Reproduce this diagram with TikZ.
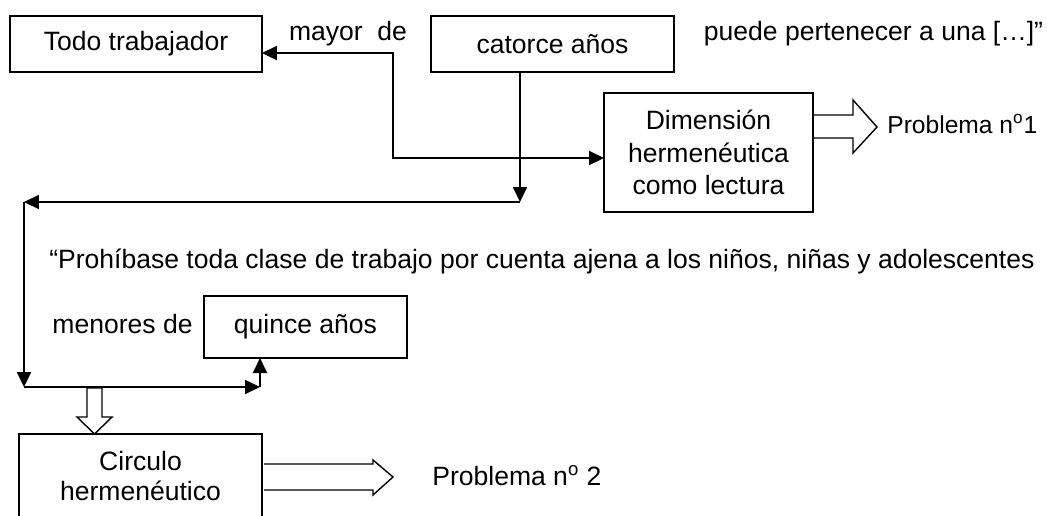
\documentclass[tikz,border=0pt]{standalone}
\usepackage{fontspec}
\setmainfont{Liberation Sans}
\usetikzlibrary{arrows.meta}

\tikzset{
  box/.style={draw, line width=1.15pt, inner sep=0pt, outer sep=0pt, align=center},
  link/.style={line width=1.15pt, >={Triangle[length=0.3cm,width=0.28cm]}, ->},
  hollow/.style={draw, line width=0.8pt, fill=white, line join=miter},
  txt/.style={anchor=base, inner sep=0pt}
}

\begin{document}
\begin{tikzpicture}[x=0.02cm, y=-0.02cm, font=\fontsize{15.1}{18}\selectfont]
  \clip (0,0) rectangle (1047,515);

  % boxes
  \node[box, minimum width=5.04cm, minimum height=1.12cm] (todo) at (136,44) {Todo trabajador};
  \node[box, minimum width=4.86cm, minimum height=1.12cm] (catorce) at (552.5,44) {catorce años};
  \node[box, minimum width=4.18cm, minimum height=2.38cm, font=\fontsize{15.1}{18.4}\selectfont] (dim) at (708.5,152.5) {Dimensión\\hermenéutica\\como lectura};
  \node[box, minimum width=4.06cm, minimum height=1.24cm] (quince) at (305.5,327) {quince años};
  \node[box, minimum width=4.86cm, minimum height=1.68cm, font=\fontsize{15.1}{17}\selectfont] (circ) at (140.5,476) {Circulo\\hermenéutico};

  % free texts
  \node[txt] (mayor) at (348,40) {mayor\ \ de};
  \node[txt] (puede) at (873.5,40) {puede pertenecer a una […]”};
  \node[txt, anchor=base west, font=\fontsize{14}{16}\selectfont] (prob1) at (887,133) {Problema n\textsuperscript{o}1};
  \node[txt, anchor=base west] (cita) at (49,268) {“Prohíbase toda clase de trabajo por cuenta ajena a los niños, niñas y adolescentes};
  \node[txt] (menores) at (122.5,333) {menores de};
  \node[txt, anchor=base west] (prob2) at (432,485) {Problema n\textsuperscript{o} 2};

  % connectors
  \coordinate (kneeA) at (393,53);
  \coordinate (kneeB) at (393,158);
  \coordinate (splitC) at (520,202);
  \coordinate (cornerL) at (24,202);
  \coordinate (cornerB) at (24,387);
  \coordinate (cornerR) at (260,387);

  \draw[link, <->] (todo.east |- kneeA) -- (kneeA) -- (kneeB) -- (dim.west |- kneeB);
  \draw[link] (catorce.south -| splitC) -- (splitC);
  \draw[link] (splitC) -- (cornerL);
  \draw[link] (cornerL) -- (cornerB);
  \draw[link] (cornerB) -- (cornerR);
  \draw[link] (cornerR) -- (cornerR |- quince.south);

  % hollow arrows
  \draw[hollow] (814,115) -- (853,115) -- (853,100) -- (877,127) -- (853,153) -- (853,138) -- (814,138);
  \draw[hollow] (87,388) -- (102,388) -- (102,417) -- (112,417) -- (94.5,434) -- (77,417) -- (87,417) -- cycle;
  \draw[hollow] (264,464) -- (373,464) -- (373,460) -- (393,477) -- (373,495) -- (373,490) -- (264,490);
\end{tikzpicture}
\end{document}
